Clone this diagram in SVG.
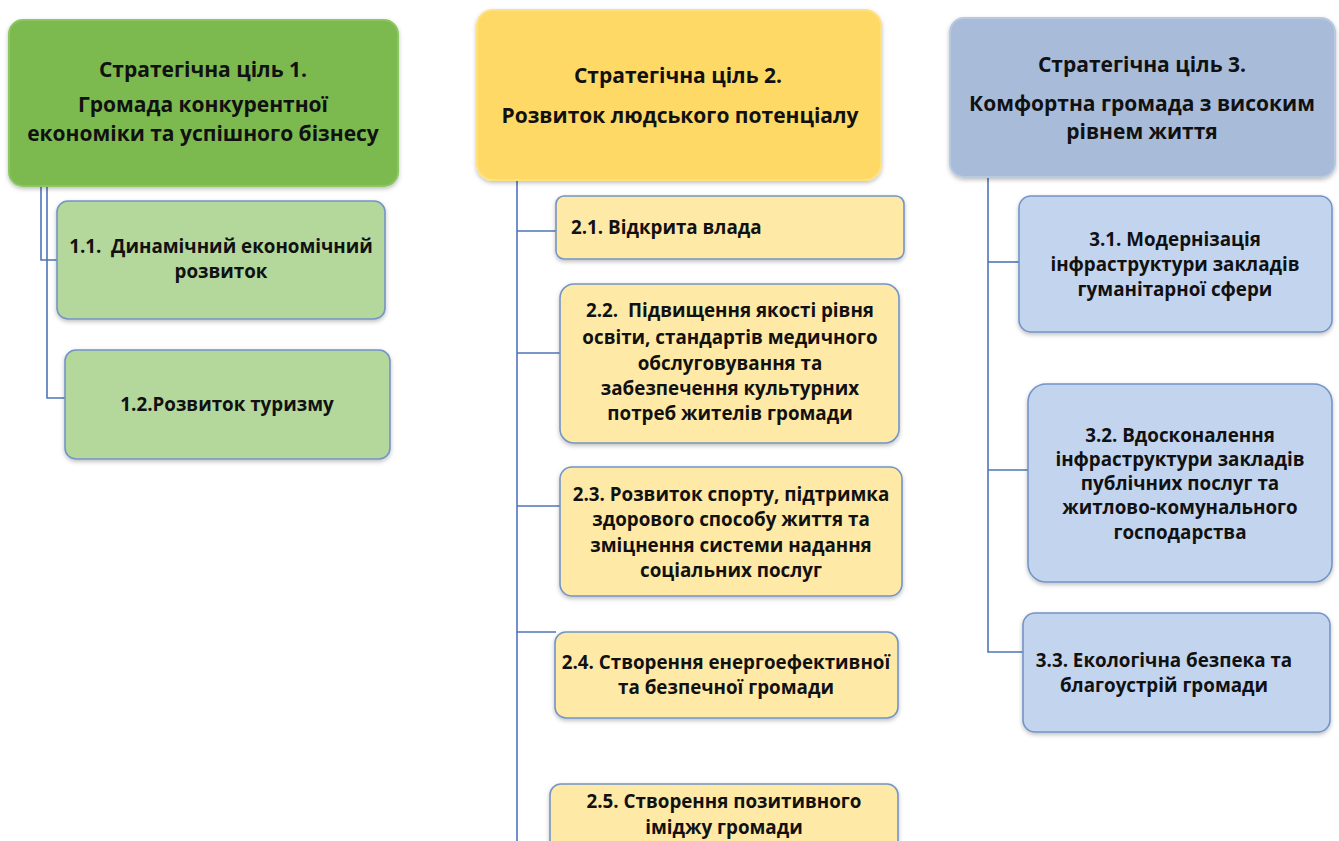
<svg xmlns="http://www.w3.org/2000/svg" width="1339" height="841" viewBox="0 0 1339 841">
<defs>
<filter id="sh" x="-5%" y="-5%" width="110%" height="115%">
<feDropShadow dx="0" dy="2" stdDeviation="2" flood-color="#000" flood-opacity="0.25"/>
</filter>
<style>
.t{font-family:"Open Sans","Noto Sans","DejaVu Sans",sans-serif;font-weight:bold;fill:#111;text-anchor:middle;white-space:pre;}
.h{font-size:21px;}
.s{font-size:18.8px;}
.g1{fill:#7BBA4F;stroke:#8CC663;stroke-width:2;}
.g2{fill:#B4D79C;stroke:#7394C6;stroke-width:1.6;}
.y1{fill:#FFD965;stroke:#FFE27F;stroke-width:2;}
.y2{fill:#FFE9A6;stroke:#7394C6;stroke-width:1.6;}
.b1{fill:#A8BCDA;stroke:#B8C9E2;stroke-width:2;}
.b2{fill:#C3D4EE;stroke:#7394C6;stroke-width:1.6;}
.c{fill:none;stroke:#4F75B9;stroke-width:1.6;}
</style>
</defs>
<rect width="1339" height="841" fill="#fff"/>
<g id="connectors">
<polyline class="c" points="41,186 41,260 58,260"/>
<polyline class="c" points="47,186 47,398 66,398"/>
<line class="c" x1="517" y1="180" x2="517" y2="841"/>
<line class="c" x1="517" y1="231" x2="556" y2="231"/>
<line class="c" x1="517" y1="353" x2="560" y2="353"/>
<line class="c" x1="517" y1="506" x2="560" y2="506"/>
<line class="c" x1="517" y1="632" x2="556" y2="632"/>
<polyline class="c" points="988,177 988,652 1023,652"/>
<line class="c" x1="988" y1="262" x2="1019" y2="262"/>
<line class="c" x1="988" y1="470" x2="1028" y2="470"/>
</g>
<g id="goal1">
<rect class="g1" x="9" y="20" width="389" height="166" rx="14" filter="url(#sh)"/>
<text class="t h" x="203" y="77">Стратегічна ціль 1.</text>
<text class="t h" x="203" y="112">Громада конкурентної</text>
<text class="t h" x="203" y="141">економіки та успішного бізнесу</text>
</g>
<g id="n1_1">
<rect class="g2" x="57" y="201" width="328" height="118" rx="11" filter="url(#sh)"/>
<text class="t s" x="221" y="253">1.1.  Динамічний економічний</text>
<text class="t s" x="221" y="278">розвиток</text>
</g>
<g id="n1_2">
<rect class="g2" x="65" y="350" width="325" height="109" rx="11" filter="url(#sh)"/>
<text class="t s" x="227" y="411">1.2.Розвиток туризму</text>
</g>
<g id="goal2">
<rect class="y1" x="477" y="10" width="404" height="170" rx="16" filter="url(#sh)"/>
<text class="t h" x="678" y="83">Стратегічна ціль 2.</text>
<text class="t h" x="680" y="123">Розвиток людського потенціалу</text>
</g>
<g id="n2_1">
<rect class="y2" x="556" y="196" width="348" height="63" rx="8" filter="url(#sh)"/>
<text class="t s" x="571" y="234" style="text-anchor:start">2.1. Відкрита влада</text>
</g>
<g id="n2_2">
<rect class="y2" x="560" y="284" width="339" height="159" rx="14" filter="url(#sh)"/>
<text class="t s" x="730" y="317">2.2.  Підвищення якості рівня</text>
<text class="t s" x="730" y="344">освіти, стандартів медичного</text>
<text class="t s" x="730" y="370">обслуговування та</text>
<text class="t s" x="730" y="395">забезпечення культурних</text>
<text class="t s" x="730" y="420">потреб жителів громади</text>
</g>
<g id="n2_3">
<rect class="y2" x="560" y="467" width="342" height="129" rx="12" filter="url(#sh)"/>
<text class="t s" x="731" y="501">2.3. Розвиток спорту, підтримка</text>
<text class="t s" x="731" y="526">здорового способу життя та</text>
<text class="t s" x="731" y="552">зміцнення системи надання</text>
<text class="t s" x="731" y="577">соціальних послуг</text>
</g>
<g id="n2_4">
<rect class="y2" x="555" y="632" width="343" height="86" rx="11" filter="url(#sh)"/>
<text class="t s" x="726" y="669">2.4. Створення енергоефективної</text>
<text class="t s" x="726" y="694">та безпечної громади</text>
</g>
<g id="n2_5">
<rect class="y2" x="550" y="784" width="348" height="70" rx="11" filter="url(#sh)"/>
<text class="t s" x="724" y="808">2.5. Створення позитивного</text>
<text class="t s" x="724" y="834">іміджу громади</text>
</g>
<g id="goal3">
<rect class="b1" x="950" y="18" width="385" height="159" rx="14" filter="url(#sh)"/>
<text class="t h" x="1142" y="72">Стратегічна ціль 3.</text>
<text class="t h" x="1142" y="111">Комфортна громада з високим</text>
<text class="t h" x="1142" y="139">рівнем життя</text>
</g>
<g id="n3_1">
<rect class="b2" x="1019" y="196" width="313" height="136" rx="12" filter="url(#sh)"/>
<text class="t s" x="1175" y="246">3.1. Модернізація</text>
<text class="t s" x="1175" y="271">інфраструктури закладів</text>
<text class="t s" x="1175" y="296">гуманітарної сфери</text>
</g>
<g id="n3_2">
<rect class="b2" x="1028" y="384" width="304" height="198" rx="18" filter="url(#sh)"/>
<text class="t s" x="1180" y="442">3.2. Вдосконалення</text>
<text class="t s" x="1180" y="466">інфраструктури закладів</text>
<text class="t s" x="1180" y="490">публічних послуг та</text>
<text class="t s" x="1180" y="514">житлово-комунального</text>
<text class="t s" x="1180" y="539">господарства</text>
</g>
<g id="n3_3">
<rect class="b2" x="1023" y="613" width="307" height="119" rx="12" filter="url(#sh)"/>
<text class="t s" x="1164" y="667">3.3. Екологічна безпека та</text>
<text class="t s" x="1164" y="692">благоустрій громади</text>
</g>
</svg>
